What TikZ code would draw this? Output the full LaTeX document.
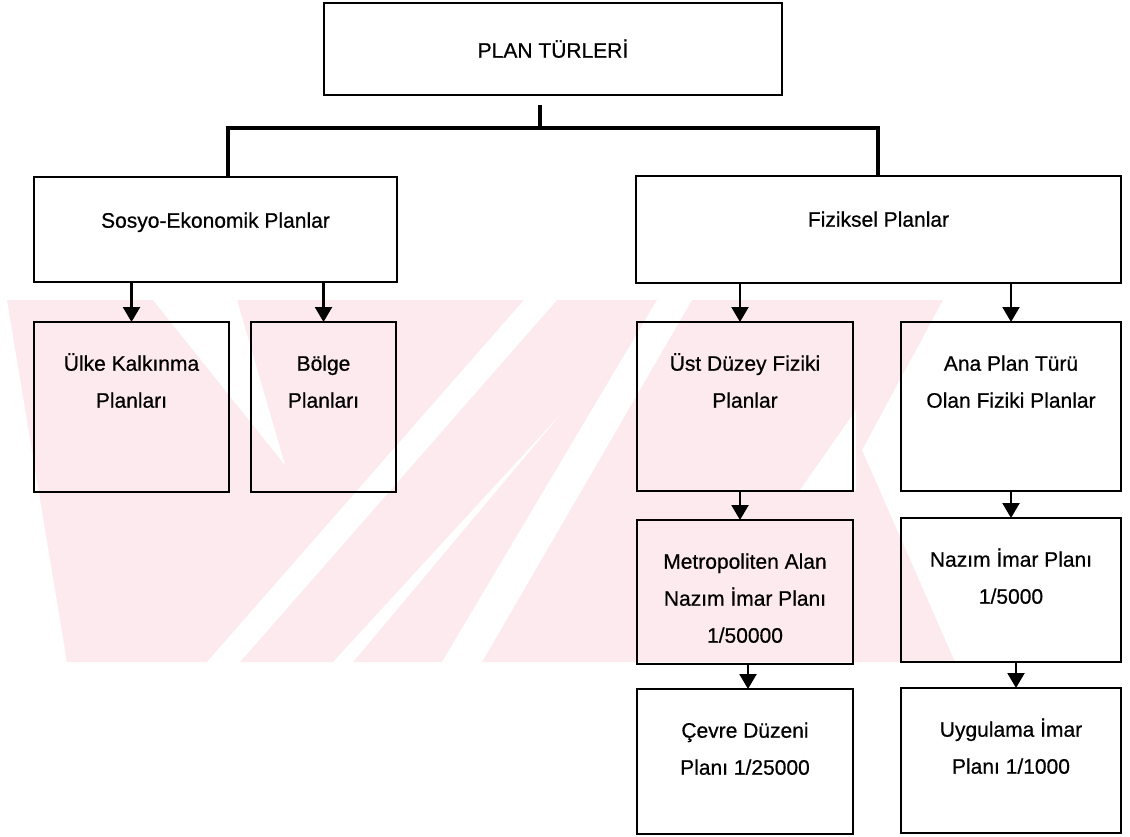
\documentclass[tikz,border=0pt]{standalone}
\usepackage{fontspec}
\setmainfont{Liberation Sans}
\newfontfamily\thickfont{Liberation Sans}[FakeBold=0.6]
\usetikzlibrary{arrows.meta}
\definecolor{wm}{RGB}{253,234,238}
\newcommand{\mystrut}{\rule{0pt}{20pt}}
\begin{document}
\begin{tikzpicture}[x=1pt,y=-1pt,
  box/.style={draw=black, line width=2.6pt, rectangle, inner sep=0pt, outer sep=0pt},
  txt/.style={anchor=north, align=center, inner sep=0pt, font=\thickfont\fontsize{21}{37}\selectfont},
  arr/.style={draw=black, line width=2.2pt, -{Triangle[length=15pt,width=17pt]}},
  brk/.style={draw=black, line width=4.2pt, line join=miter},
  gap/.style={fill=white}]
\useasboundingbox (0,0) rectangle (1130,836);
% watermark
\begin{scope}
\clip (0,300) rectangle (1010,662);
\fill[wm] (7,300) -- (943,300) -- (862,450) -- (955,662) -- (67,662) -- cycle;
\fill[gap] (153,300) -- (237,300) -- (285,465) -- cycle;
\fill[gap] (524,300) -- (557,300) -- (240,662) -- (207,662) -- cycle;
\fill[gap] (333,662) -- (353,662) -- (560,415) -- cycle;
\fill[gap] (657,300) -- (692,300) -- (482,662) -- (442,662) -- cycle;
\fill[gap] (800,490) -- (856,490) -- (856,410) -- cycle;
\end{scope}
% boxes
\node[box, minimum width=458pt, minimum height=92pt] (top) at (553,49) {};
\node[box, minimum width=363pt, minimum height=105pt] (sosyo) at (215.5,229.5) {};
\node[box, minimum width=485pt, minimum height=107pt] (fiz) at (878.5,229.5) {};
\node[box, minimum width=195pt, minimum height=170pt] (ulke) at (131.5,407) {};
\node[box, minimum width=145pt, minimum height=170pt] (bolge) at (323.5,407) {};
\node[box, minimum width=216pt, minimum height=169pt] (ust) at (745,406.5) {};
\node[box, minimum width=220pt, minimum height=169pt] (ana) at (1011,406.5) {};
\node[box, minimum width=216pt, minimum height=144pt] (metro) at (745,592) {};
\node[box, minimum width=220pt, minimum height=144pt] (nazim) at (1011,590) {};
\node[box, minimum width=216pt, minimum height=145pt] (cevre) at (745,761.5) {};
\node[box, minimum width=220pt, minimum height=145pt] (uyg) at (1011,760.5) {};
% texts
\node[txt] (ttop) at ([yshift=-34.5pt]top.north) {\mystrut PLAN TÜRLERİ};
\node[txt] (tsosyo) at ([yshift=-30.5pt]sosyo.north) {\mystrut Sosyo-Ekonomik Planlar};
\node[txt] (tfiz) at ([yshift=-30.5pt]fiz.north) {\mystrut Fiziksel Planlar};
\node[txt] (tulke) at ([yshift=-28.5pt]ulke.north) {\mystrut Ülke Kalkınma\\Planları};
\node[txt] (tbolge) at ([yshift=-28.5pt]bolge.north) {\mystrut Bölge\\Planları};
\node[txt] (tust) at ([yshift=-28.5pt]ust.north) {\mystrut Üst Düzey Fiziki\\Planlar};
\node[txt] (tana) at ([yshift=-28.5pt]ana.north) {\mystrut Ana Plan Türü\\Olan Fiziki Planlar};
\node[txt] (tmetro) at ([yshift=-28.5pt]metro.north) {\mystrut Metropoliten Alan\\Nazım İmar Planı\\1/50000};
\node[txt] (tnazim) at ([yshift=-28.5pt]nazim.north) {\mystrut Nazım İmar Planı\\1/5000};
\node[txt] (tcevre) at ([yshift=-28.5pt]cevre.north) {\mystrut Çevre Düzeni\\Planı 1/25000};
\node[txt] (tuyg) at ([yshift=-28.5pt]uyg.north) {\mystrut Uygulama İmar\\Planı 1/1000};
% bracket
\coordinate (stemtop) at (540,105);
\coordinate (stembot) at (540,128);
\coordinate (jl) at (228,128);
\coordinate (jr) at (878,128);
\draw[brk] (stemtop) -- (stembot);
\draw[brk] (sosyo.north -| jl) -- (jl) -- (jr) -- (fiz.north -| jr);
% arrows
\draw[arr] (sosyo.south -| ulke.north) -- (ulke.north);
\draw[arr] (sosyo.south -| bolge.north) -- (bolge.north);
\draw[arr] ([xshift=-5pt]fiz.south -| ust.north) -- ([xshift=-5pt]ust.north);
\draw[arr] (fiz.south -| ana.north) -- (ana.north);
\draw[arr] ([xshift=-5pt]ust.south) -- ([xshift=-5pt]metro.north);
\draw[arr] (ana.south) -- (nazim.north);
\draw[arr] ([xshift=3pt]metro.south) -- ([xshift=3pt]cevre.north);
\draw[arr] ([xshift=5pt]nazim.south) -- ([xshift=5pt]uyg.north);
\end{tikzpicture}
\end{document}
